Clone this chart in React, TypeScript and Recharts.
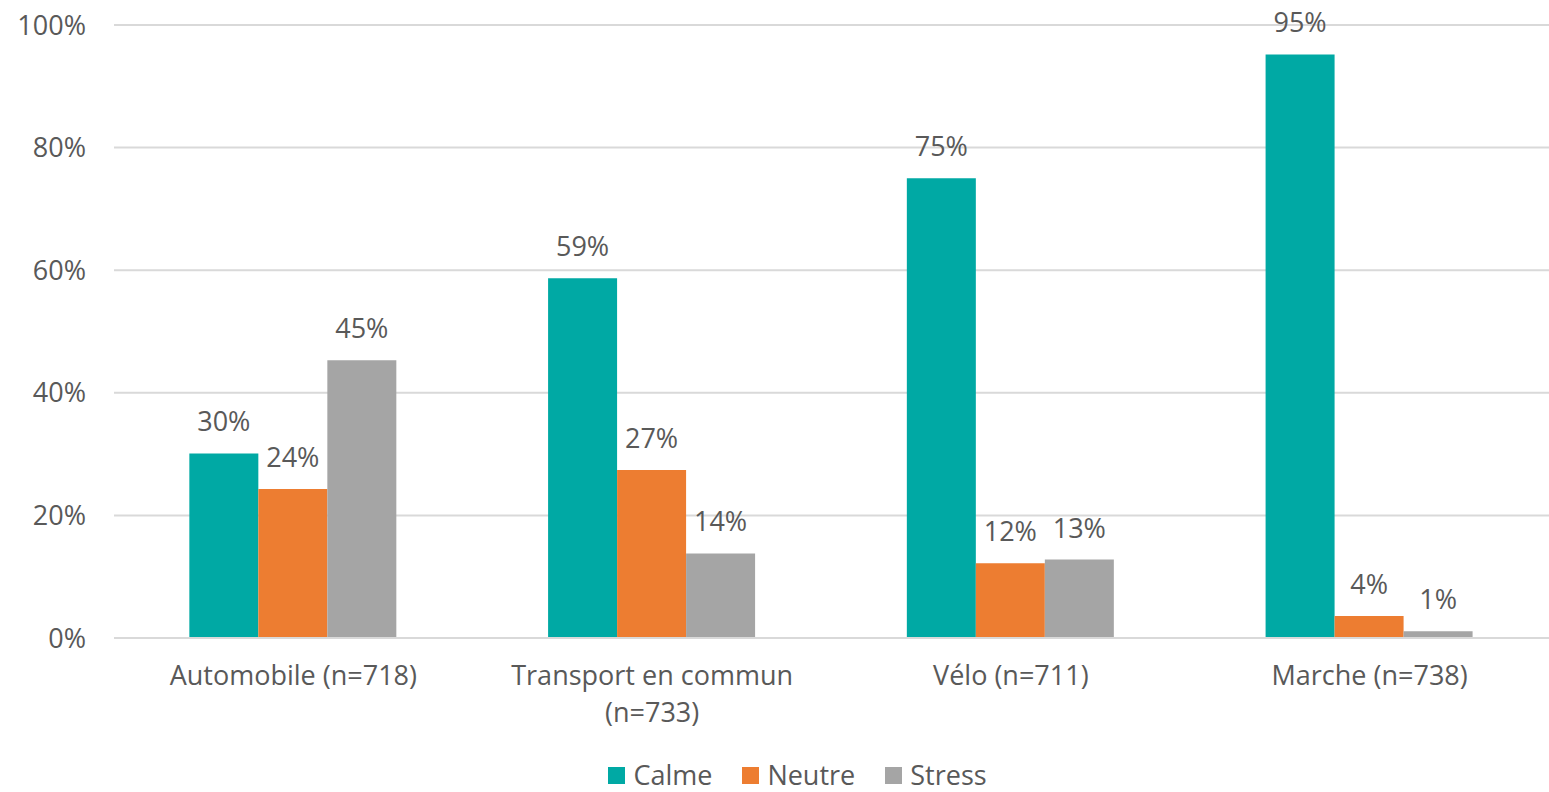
import React from "react";
import {
  BarChart,
  Bar,
  XAxis,
  YAxis,
  CartesianGrid,
  Legend,
  LabelList,
} from "recharts";

const FONT = "'Open Sans', 'DejaVu Sans', sans-serif";
const TEXT_COLOR = "#595959";
const FONT_SIZE = 27;

// Catégories (modes de déplacement)
const categories = [
  "Automobile (n=718)",
  "Transport en commun (n=733)",
  "Vélo (n=711)",
  "Marche (n=738)",
];

// Valeurs en %
const calme = [30.1, 58.7, 75.0, 95.2];
const neutre = [24.3, 27.4, 12.2, 3.6];
const stress = [45.3, 13.8, 12.8, 1.1];

const yTicks = [0, 20, 40, 60, 80, 100];

const series = [
  { key: "calme", name: "Calme", color: "#00A9A4" },
  { key: "neutre", name: "Neutre", color: "#ED7D31" },
  { key: "stress", name: "Stress", color: "#A5A5A5" },
];

const data = categories.map((name, i) => ({
  name,
  calme: calme[i],
  neutre: neutre[i],
  stress: stress[i],
}));

// petit retour à la ligne basé sur la largeur du texte
let ctx: CanvasRenderingContext2D | null = null;
function wrapLabel(label: string, maxWidth: number): string[] {
  if (!ctx) ctx = document.createElement("canvas").getContext("2d");
  if (!ctx) return [label];
  ctx.font = `${FONT_SIZE}px 'Open Sans'`;
  const words = label.split(" ");
  const lines: string[] = [];
  let current = "";
  for (const w of words) {
    const next = current ? `${current} ${w}` : w;
    if (current && ctx.measureText(next).width > maxWidth) {
      lines.push(current);
      current = w;
    } else {
      current = next;
    }
  }
  if (current) lines.push(current);
  return lines;
}

const CategoryTick = (props: any) => {
  const { x, y, payload } = props;
  const lines = wrapLabel(String(payload.value), 300);
  return (
    <text
      x={x}
      y={y}
      textAnchor="middle"
      fill={TEXT_COLOR}
      fontSize={FONT_SIZE}
      fontFamily={FONT}
    >
      {lines.map((l, i) => (
        <tspan key={i} x={x} dy={i === 0 ? 19 : 37}>
          {l}
        </tspan>
      ))}
    </text>
  );
};

const LegendContent = () => (
  <div
    style={{
      display: "flex",
      justifyContent: "center",
      alignItems: "center",
      height: 30,
      paddingLeft: 46,
      fontFamily: FONT,
      fontSize: FONT_SIZE,
      lineHeight: "28px",
      color: TEXT_COLOR,
    }}
  >
    {series.map((s, i) => (
      <div
        key={s.key}
        style={{
          display: "flex",
          alignItems: "center",
          marginLeft: i === 0 ? 0 : 30,
        }}
      >
        <span
          style={{
            display: "inline-block",
            width: 17,
            height: 17,
            background: s.color,
            marginRight: 8,
          }}
        />
        <span>{s.name}</span>
      </div>
    ))}
  </div>
);

export default function App() {
  return (
    <div style={{ position: "absolute", left: 0, top: 0, background: "#fff" }}>
      <BarChart
        width={1549}
        height={792}
        data={data}
        margin={{ top: 25, right: 0, left: 0, bottom: 2 }}
        barCategoryGap="21%"
        barGap={0}
      >
        <CartesianGrid vertical={false} stroke="#D9D9D9" strokeWidth={2} />
        <XAxis
          dataKey="name"
          axisLine={{ stroke: "#D9D9D9", strokeWidth: 2 }}
          tickLine={false}
          tickMargin={22}
          height={122}
          interval={0}
          tick={<CategoryTick />}
        />
        <YAxis
          type="number"
          domain={[0, 100]}
          ticks={yTicks}
          width={114}
          axisLine={false}
          tickLine={false}
          tickMargin={22}
          tickFormatter={(v: number) => `${v}%`}
          tick={{ fill: TEXT_COLOR, fontSize: FONT_SIZE, fontFamily: FONT }}
        />
        <Legend verticalAlign="bottom" content={<LegendContent />} />
        {series.map((s) => (
          <Bar
            key={s.key}
            dataKey={s.key}
            name={s.name}
            fill={s.color}
            isAnimationActive={false}
          >
            <LabelList
              dataKey={s.key}
              position="top"
              offset={22}
              fill={TEXT_COLOR}
              fontSize={FONT_SIZE}
              fontFamily={FONT}
              formatter={(v: number) => `${Math.round(v)}%`}
            />
          </Bar>
        ))}
      </BarChart>
    </div>
  );
}
